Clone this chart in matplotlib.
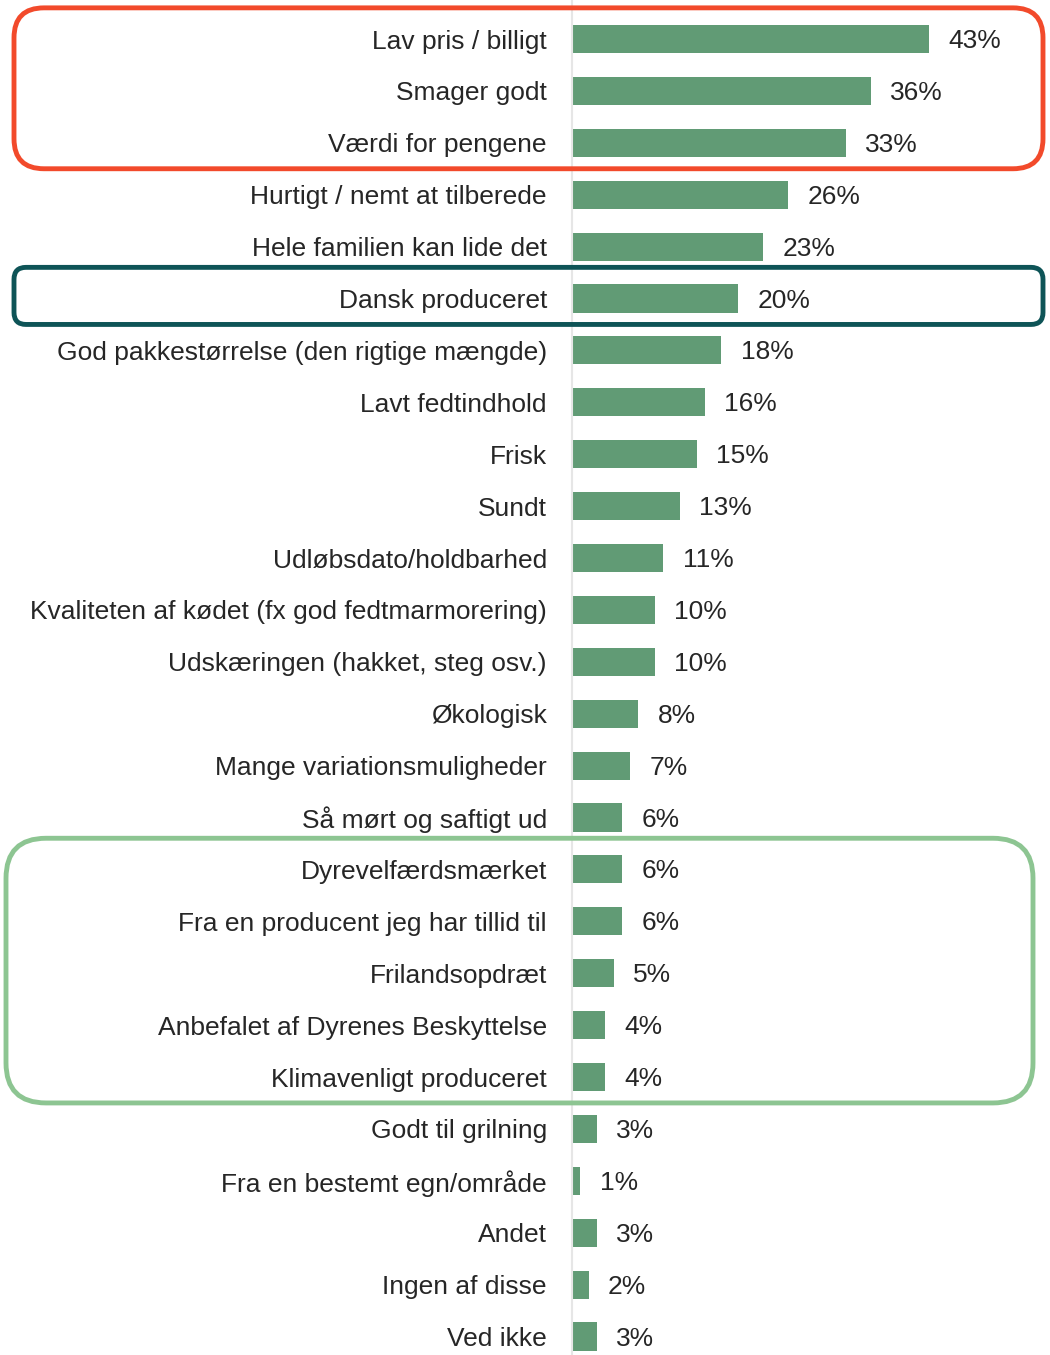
import matplotlib
matplotlib.use("Agg")
import matplotlib.pyplot as plt
from matplotlib.patches import FancyBboxPatch
from matplotlib.transforms import IdentityTransform

plt.rcParams["font.family"] = ["Liberation Sans", "DejaVu Sans"]

labels = [
    "Lav pris / billigt",
    "Smager godt",
    "Værdi for pengene",
    "Hurtigt / nemt at tilberede",
    "Hele familien kan lide det",
    "Dansk produceret",
    "God pakkestørrelse (den rigtige mængde)",
    "Lavt fedtindhold",
    "Frisk",
    "Sundt",
    "Udløbsdato/holdbarhed",
    "Kvaliteten af kødet (fx god fedtmarmorering)",
    "Udskæringen (hakket, steg osv.)",
    "Økologisk",
    "Mange variationsmuligheder",
    "Så mørt og saftigt ud",
    "Dyrevelfærdsmærket",
    "Fra en producent jeg har tillid til",
    "Frilandsopdræt",
    "Anbefalet af Dyrenes Beskyttelse",
    "Klimavenligt produceret",
    "Godt til grilning",
    "Fra en bestemt egn/område",
    "Andet",
    "Ingen af disse",
    "Ved ikke",
]
values = [43, 36, 33, 26, 23, 20, 18, 16, 15, 13, 11, 10, 10, 8, 7, 6, 6, 6, 5, 4, 4, 3, 1, 3, 2, 3]

# highlighted groups: (first row, last row, colour)
groups = [(0, 2, "#f24a2b"), (5, 5, "#0e5457"), (16, 20, "#8dc592")]

W, H = 1050, 1355
fig = plt.figure(figsize=(W / 100, H / 100), dpi=100)
ax = fig.add_axes([572 / W, 0, 1 - 572 / W, 1])

rows = list(range(len(labels)))
ax.barh(rows, values, height=0.54, color="#619b75")
ax.set_xlim(0, (W - 572) / 8.3)
ax.set_ylim((H - 39) / 51.9, -39 / 51.9)

ax.set_yticks(rows)
ax.set_yticklabels(labels, fontsize=19, color="#262626")
ax.tick_params(axis="y", length=0, pad=18)
ax.set_xticks([])
for s in ["top", "right", "bottom"]:
    ax.spines[s].set_visible(False)
ax.spines["left"].set_color("#e6e6e6")
ax.spines["left"].set_linewidth(1.5)

for r, v in zip(rows, values):
    ax.annotate(f"{v}%", (v, r), xytext=(14, -1.5), textcoords="offset points",
                va="center", ha="left", fontsize=19, color="#262626")

# rounded highlight frames in pixel space
fig.canvas.draw()
frames = {0: (14, 1043, 30), 5: (14, 1043, 12), 16: (6, 1033, 40)}
for first, last, col in groups:
    x0, x1, rad = frames[first]
    y_top = ax.transData.transform((0, first - 0.6))[1]
    y_bot = ax.transData.transform((0, last + 0.5))[1]
    box = FancyBboxPatch((x0, y_bot), x1 - x0, y_top - y_bot,
                         boxstyle=f"round,pad=0,rounding_size={rad}",
                         transform=IdentityTransform(), fill=False,
                         edgecolor=col, linewidth=3.5, zorder=5)
    fig.patches.append(box)

fig.savefig("out.png", dpi=100)
